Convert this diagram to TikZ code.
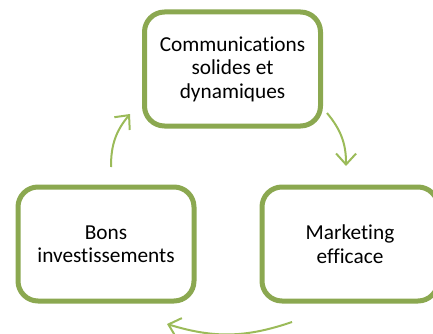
\documentclass[tikz,border=0pt]{standalone}
\usepackage{fontspec}
\setmainfont{Carlito}[Ligatures={NoCommon}]
\usetikzlibrary{arrows.meta}
\definecolor{boxgreen}{RGB}{139,168,80}
\definecolor{arrgreen}{RGB}{155,187,89}
\begin{document}
\begin{tikzpicture}[x=1pt,y=-1pt,
  cyclebox/.style={draw=boxgreen, line width=5pt, rounded corners=20pt, fill=white,
    minimum width=176pt, minimum height=114pt, align=center,
    font=\fontsize{21.3}{23.5}\selectfont, text=black, inner sep=0pt},
  cyclearrow/.style={draw=arrgreen, line width=2pt,
    -{Straight Barb[length=11pt,width=20pt,line width=2pt]}}]
\useasboundingbox (0,0) rectangle (433,334);
\clip (0,0) rectangle (433,334);
\node[cyclebox] (comm) at (232.5,69) {Communications\\solides et\\dynamiques};
\node[cyclebox] (bons) at (106,244) {Bons\\investissements};
\node[cyclebox] (mark) at (350,244) {Marketing\\efficace};
\coordinate (a1s) at (327,113);
\coordinate (a1e) at (346,166);
\coordinate (a2s) at (292,322);
\coordinate (a2e) at (167,324);
\coordinate (a3s) at (111,167);
\coordinate (a3e) at (130,114);
\draw[cyclearrow] (a1s) to[bend left=20] (a1e);
\draw[cyclearrow] (a2s) to[bend left=18] (a2e);
\draw[cyclearrow] (a3s) to[bend left=20] (a3e);
\end{tikzpicture}
\end{document}
